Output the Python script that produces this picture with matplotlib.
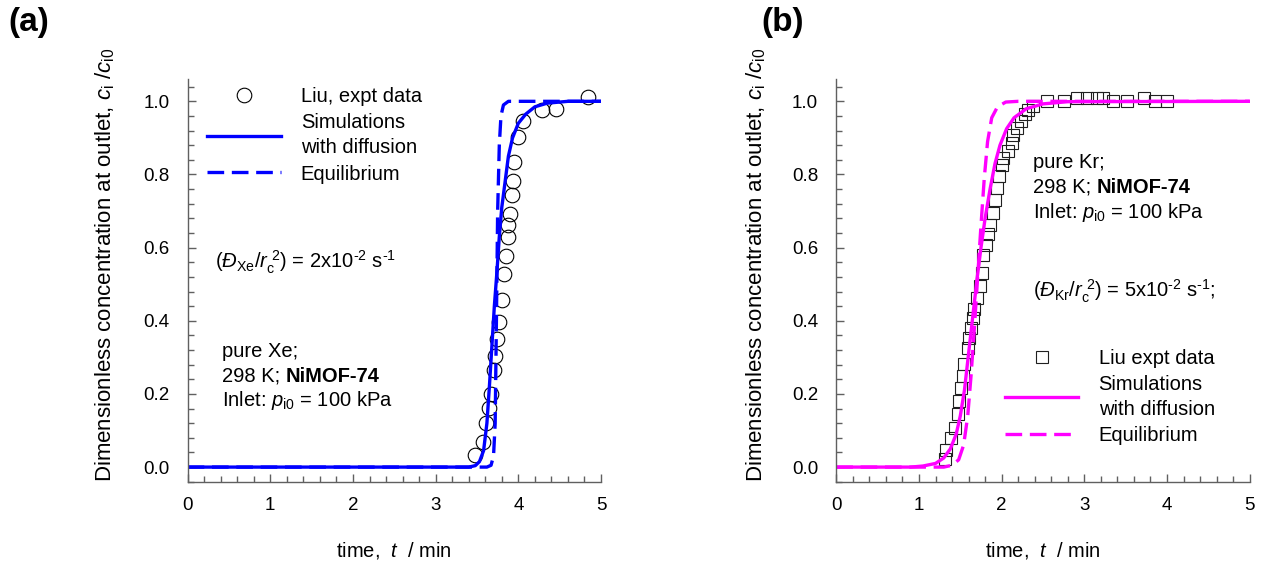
import numpy as np
import matplotlib.pyplot as plt

plt.rcParams['font.family'] = ['Liberation Sans', 'DejaVu Sans']
plt.rcParams['mathtext.fontset'] = 'custom'
plt.rcParams['mathtext.rm'] = 'Liberation Sans'
plt.rcParams['mathtext.it'] = 'Liberation Sans:italic'
plt.rcParams['mathtext.bf'] = 'Liberation Sans:bold'

# (a) pure Xe, NiMOF-74 -- experimental points
xe_t = [3.48, 3.57, 3.61, 3.65, 3.67, 3.70, 3.72, 3.74, 3.77, 3.80, 3.83, 3.85,
        3.87, 3.88, 3.90, 3.92, 3.94, 3.95, 4.00, 4.06, 4.29, 4.46, 4.84]
xe_c = [0.033, 0.068, 0.12, 0.162, 0.20, 0.265, 0.304, 0.349, 0.397, 0.457, 0.528, 0.577,
        0.628, 0.661, 0.692, 0.745, 0.782, 0.833, 0.902, 0.947, 0.975, 0.98, 1.012]
# simulation with diffusion
xe_sim_t = [0, 3.40, 3.48, 3.53, 3.58, 3.62, 3.65, 3.68, 3.71, 3.74, 3.77, 3.80,
            3.84, 3.88, 3.93, 4.00, 4.09, 4.20, 4.35, 4.60, 5.0]
xe_sim_c = [0, 0, 0.004, 0.015, 0.045, 0.12, 0.22, 0.33, 0.44, 0.53, 0.63, 0.71,
            0.78, 0.85, 0.90, 0.94, 0.965, 0.985, 0.995, 1.0, 1.0]
# equilibrium
xe_eq_t = [0, 3.62, 3.67, 3.70, 3.72, 3.735, 3.75, 3.77, 3.79, 3.82, 3.88, 5.0]
xe_eq_c = [0, 0, 0.005, 0.03, 0.12, 0.40, 0.70, 0.88, 0.96, 0.99, 1.0, 1.0]

# (b) pure Kr, NiMOF-74 -- experimental points
kr_t = [1.31, 1.33, 1.39, 1.43, 1.47, 1.49, 1.51, 1.53, 1.55, 1.59, 1.61, 1.63,
        1.65, 1.67, 1.70, 1.74, 1.76, 1.78, 1.81, 1.83, 1.86, 1.89, 1.92, 1.94,
        1.97, 2.00, 2.02, 2.08, 2.12, 2.14, 2.18, 2.24, 2.28, 2.32, 2.38, 2.55,
        2.75, 2.91, 3.03, 3.15, 3.23, 3.35, 3.52, 3.72, 3.86, 4.00]
kr_c = [0.021, 0.048, 0.08, 0.107, 0.144, 0.18, 0.217, 0.249, 0.281, 0.326, 0.353, 0.381,
        0.408, 0.431, 0.462, 0.494, 0.531, 0.581, 0.608, 0.636, 0.663, 0.695, 0.731, 0.763,
        0.795, 0.827, 0.845, 0.863, 0.886, 0.909, 0.927, 0.945, 0.964, 0.977, 0.986, 1.0,
        1.0, 1.009, 1.009, 1.009, 1.009, 1.0, 1.0, 1.009, 1.0, 1.0]
kr_sim_t = [0, 0.90, 1.05, 1.20, 1.30, 1.38, 1.45, 1.50, 1.55, 1.60, 1.65, 1.70,
            1.75, 1.80, 1.86, 1.92, 1.98, 2.06, 2.15, 2.30, 2.50, 2.80, 5.0]
kr_sim_c = [0, 0, 0.003, 0.01, 0.025, 0.05, 0.09, 0.14, 0.21, 0.31, 0.41, 0.51,
            0.60, 0.68, 0.76, 0.83, 0.88, 0.925, 0.955, 0.98, 0.993, 0.999, 1.0]
kr_eq_t = [0, 1.30, 1.40, 1.48, 1.54, 1.59, 1.63, 1.67, 1.71, 1.75, 1.79, 1.83,
           1.88, 1.95, 2.05, 2.20, 5.0]
kr_eq_c = [0, 0, 0.005, 0.02, 0.06, 0.14, 0.25, 0.38, 0.52, 0.66, 0.79, 0.89,
           0.955, 0.985, 0.998, 1.0, 1.0]

blue = '#0000ff'
magenta = '#ff00ff'
spine_col = '#606060'
fs = 14.5

fig = plt.figure(figsize=(12.61, 5.67), dpi=100)
axa = fig.add_axes([0.1488, 0.1504, 0.3278, 0.7096])
axb = fig.add_axes([0.6632, 0.1504, 0.3278, 0.7096])


def style_axes(ax):
    ax.set_xlim(0, 5)
    ax.set_ylim(-0.04, 1.06)
    ax.set_xticks([0, 1, 2, 3, 4, 5])
    ax.set_xticks(np.arange(0, 5.01, 0.2), minor=True)
    ax.set_yticks([0.0, 0.2, 0.4, 0.6, 0.8, 1.0])
    ax.set_yticks(np.arange(-0.04, 1.061, 0.04), minor=True)
    ax.set_yticklabels(['0.0', '0.2', '0.4', '0.6', '0.8', '1.0'])
    for s in ['top', 'right']:
        ax.spines[s].set_visible(False)
    for s in ['left', 'bottom']:
        ax.spines[s].set_color(spine_col)
        ax.spines[s].set_linewidth(1.0)
    ax.tick_params(which='both', direction='in', color=spine_col, labelsize=13.5)
    ax.tick_params(which='major', length=5.5, width=1.0)
    ax.tick_params(which='minor', length=4.5, width=1.0)
    ax.tick_params(axis='x', pad=11)
    ax.tick_params(axis='y', pad=13)
    ax.set_xlabel('time,  $t$  / min', fontsize=fs)
    ax.set_ylabel(r'Dimensionless concentration at outlet, $c_{\rm i}$ /$c_{\rm i0}$', fontsize=16)
    ax.xaxis.set_label_coords(0.5, -0.145)


def add_legend(ax, anchor):
    leg = ax.legend(loc='upper left', bbox_to_anchor=anchor, frameon=False, fontsize=fs,
                    handlelength=3.65, handletextpad=1.0, borderpad=0, borderaxespad=0,
                    labelspacing=0.35, numpoints=1)
    for t in leg.get_texts():
        t.set_linespacing(1.4)
    return leg


style_axes(axa)
style_axes(axb)
axa.yaxis.set_label_coords(-0.172, 0.54)
axb.yaxis.set_label_coords(-0.166, 0.54)

# panel (a)
axa.plot(xe_t, xe_c, 'o', ms=10.5, mfc='none', mec='black', mew=0.8, label='Liu, expt data')
axa.plot(xe_sim_t, xe_sim_c, '-', color=blue, lw=2.4, label='Simulations\nwith diffusion')
axa.plot(xe_eq_t, xe_eq_c, '--', color=blue, lw=2.4, dashes=(5, 2.3), label='Equilibrium')
add_legend(axa, (0.047, 0.98))

axa.text(0.066, 0.546, r'($\mathit{Đ}_{\rm Xe}/\mathit{r}_{\rm c}^{\ 2}$) = 2x10$^{\text{-2}}$ s$^{\text{-1}}$',
         transform=axa.transAxes, fontsize=fs, va='center', ha='left')
axa.text(0.083, 0.324, 'pure Xe;', transform=axa.transAxes, fontsize=fs, va='center')
ta = axa.text(0.083, 0.262, '298 K; ', transform=axa.transAxes, fontsize=fs, va='center')
axa.annotate('NiMOF-74', xy=(1, 0.5), xycoords=ta, fontsize=fs, fontweight='bold', va='center')
axa.text(0.083, 0.202, r'Inlet: $p_{\rm i0}$ = 100 kPa', transform=axa.transAxes, fontsize=fs, va='center')

# panel (b)
axb.plot(kr_t, kr_c, 's', ms=8.5, mfc='none', mec='#202020', mew=0.8, label='Liu expt data')
axb.plot(kr_sim_t, kr_sim_c, '-', color=magenta, lw=2.4, label='Simulations\nwith diffusion')
axb.plot(kr_eq_t, kr_eq_c, '--', color=magenta, lw=2.4, dashes=(5, 2.3), label='Equilibrium')
add_legend(axb, (0.408, 0.33))

axb.text(0.476, 0.794, 'pure Kr;', transform=axb.transAxes, fontsize=fs, va='center')
tb = axb.text(0.476, 0.732, '298 K; ', transform=axb.transAxes, fontsize=fs, va='center')
axb.annotate('NiMOF-74', xy=(1, 0.5), xycoords=tb, fontsize=fs, fontweight='bold', va='center')
axb.text(0.476, 0.670, r'Inlet: $p_{\rm i0}$ = 100 kPa', transform=axb.transAxes, fontsize=fs, va='center')
axb.text(0.476, 0.473, r'($\mathit{Đ}_{\rm Kr}/\mathit{r}_{\rm c}^{\ 2}$) = 5x10$^{\text{-2}}$ s$^{\text{-1}}$;',
         transform=axb.transAxes, fontsize=fs, va='center', ha='left')

fig.text(0.0063, 0.961, '(a)', fontsize=24, fontweight='bold', va='center', ha='left')
fig.text(0.604, 0.961, '(b)', fontsize=24, fontweight='bold', va='center', ha='left')

fig.savefig('out.png', dpi=100)
